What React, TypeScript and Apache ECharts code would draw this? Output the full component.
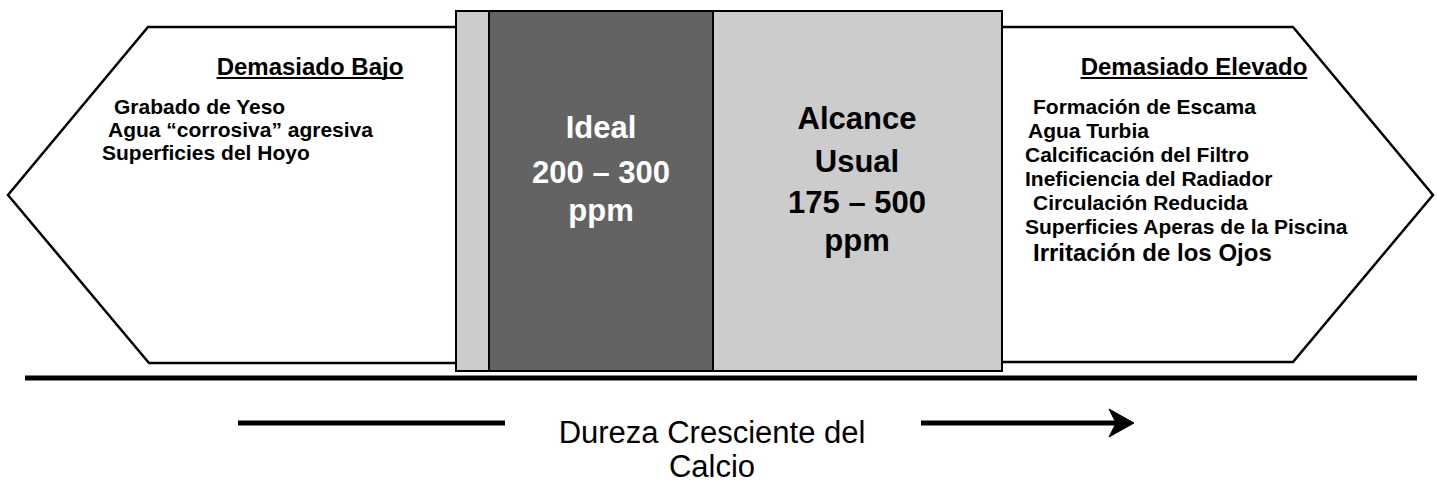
import React, { useEffect, useRef } from "react";
import * as echarts from "echarts";

// ---- content ----
const leftTitle = "Demasiado Bajo";
const leftItems = ["Grabado de Yeso", "Agua “corrosiva” agresiva", "Superficies del Hoyo"];
const rightTitle = "Demasiado Elevado";
const rightItems = [
  "Formación de Escama",
  "Agua Turbia",
  "Calcificación del Filtro",
  "Ineficiencia del Radiador",
  "Circulación Reducida",
  "Superficies Aperas de la Piscina",
  "Irritación de los Ojos",
];
const idealRange = [200, 300];
const usualRange = [175, 500];
const idealTitle = ["Ideal"];
const usualTitle = ["Alcance", "Usual"];
const unit = "ppm";
const axisTitle = ["Dureza Cresciente del", "Calcio"];

// ---- layout ----
const FONT = '"Liberation Sans", Arial, sans-serif';
const leftIndent = [114, 108, 102];
const rightIndent = [1033, 1028, 1025, 1025, 1033, 1025, 1033];

function measure(t: string, font: string) {
  const c = document.createElement("canvas").getContext("2d")!;
  c.font = font;
  return c.measureText(t).width;
}

export default function App() {
  const ref = useRef<HTMLDivElement>(null);
  useEffect(() => {
    document.body.style.margin = "0";
    const chart = echarts.init(ref.current!, null, { renderer: "svg" });
    const els: any[] = [];
    const txt = (x: number, y: number, text: string, size: number, opts: any = {}) => ({
      type: "text",
      x,
      y,
      z: 10,
      style: {
        text,
        fontSize: size,
        fontWeight: opts.weight ?? "bold",
        fontFamily: FONT,
        fill: opts.fill ?? "#000",
        textAlign: opts.align ?? "left",
        align: opts.align ?? "left",
        textVerticalAlign: "middle",
        verticalAlign: "middle",
      },
    });
    // left pentagon
    els.push({
      type: "polygon",
      z: 1,
      shape: { points: [[470, 27], [148, 27], [8, 195], [149, 363], [470, 363]] },
      style: { fill: "#fff", stroke: "#000", lineWidth: 2.5 },
    });
    // right pentagon
    els.push({
      type: "polygon",
      z: 1,
      shape: { points: [[990, 27], [1293, 27], [1433, 195], [1293, 362], [990, 362]] },
      style: { fill: "#fff", stroke: "#000", lineWidth: 2.5 },
    });
    // center box
    els.push({
      type: "rect",
      z: 2,
      shape: { x: 456, y: 11, width: 546, height: 360 },
      style: { fill: "#cccccc", stroke: "#000", lineWidth: 2 },
    });
    els.push({
      type: "rect",
      z: 3,
      shape: { x: 489, y: 11, width: 224, height: 360 },
      style: { fill: "#636363", stroke: "#000", lineWidth: 2 },
    });
    // baseline
    els.push({
      type: "line",
      z: 4,
      shape: { x1: 25, y1: 378, x2: 1417, y2: 378 },
      style: { stroke: "#000", lineWidth: 5 },
    });
    // headers
    const hf = 24;
    const hFont = `bold ${hf}px ${FONT}`;
    [
      [leftTitle, 310],
      [rightTitle, 1194],
    ].forEach(([t, cx]: any) => {
      els.push(txt(cx, 66, t, hf, { align: "center" }));
      const w = measure(t, hFont);
      els.push({
        type: "line",
        z: 10,
        shape: { x1: cx - w / 2, y1: 78, x2: cx + w / 2, y2: 78 },
        style: { stroke: "#000", lineWidth: 2 },
      });
    });
    leftItems.forEach((t, i) => els.push(txt(leftIndent[i], 106 + i * 23, t, 21)));
    rightItems.forEach((t, i) => {
      const last = i === rightItems.length - 1;
      els.push(txt(rightIndent[i], last ? 252 : 106 + i * 24, t, last ? 24 : 21));
    });
    // ideal
    const idealLines = [...idealTitle, `${idealRange[0]} – ${idealRange[1]}`, unit];
    const idealY = [127, 172, 210];
    idealLines.forEach((t, i) => els.push(txt(601, idealY[i], t, 31, { align: "center", fill: "#fff" })));
    const usualLines = [...usualTitle, `${usualRange[0]} – ${usualRange[1]}`, unit];
    const usualY = [118, 161, 202, 240];
    usualLines.forEach((t, i) => els.push(txt(857, usualY[i], t, 31, { align: "center" })));
    // bottom arrow
    els.push({
      type: "line",
      z: 4,
      shape: { x1: 238, y1: 423, x2: 505, y2: 423 },
      style: { stroke: "#000", lineWidth: 5 },
    });
    els.push({
      type: "line",
      z: 4,
      shape: { x1: 921, y1: 423, x2: 1120, y2: 423 },
      style: { stroke: "#000", lineWidth: 5 },
    });
    els.push({
      type: "polygon",
      z: 4,
      shape: { points: [[1134, 423], [1109, 409], [1116, 423], [1109, 437]] },
      style: { fill: "#000", stroke: "#000", lineWidth: 1 },
    });
    const axY = [432, 466];
    axisTitle.forEach((t, i) => els.push(txt(712, axY[i], t, 31, { align: "center", weight: "normal" })));

    chart.setOption({ animation: false, graphic: { elements: els } });
    return () => chart.dispose();
  }, []);
  return <div ref={ref} style={{ width: 1437, height: 482 }} />;
}
